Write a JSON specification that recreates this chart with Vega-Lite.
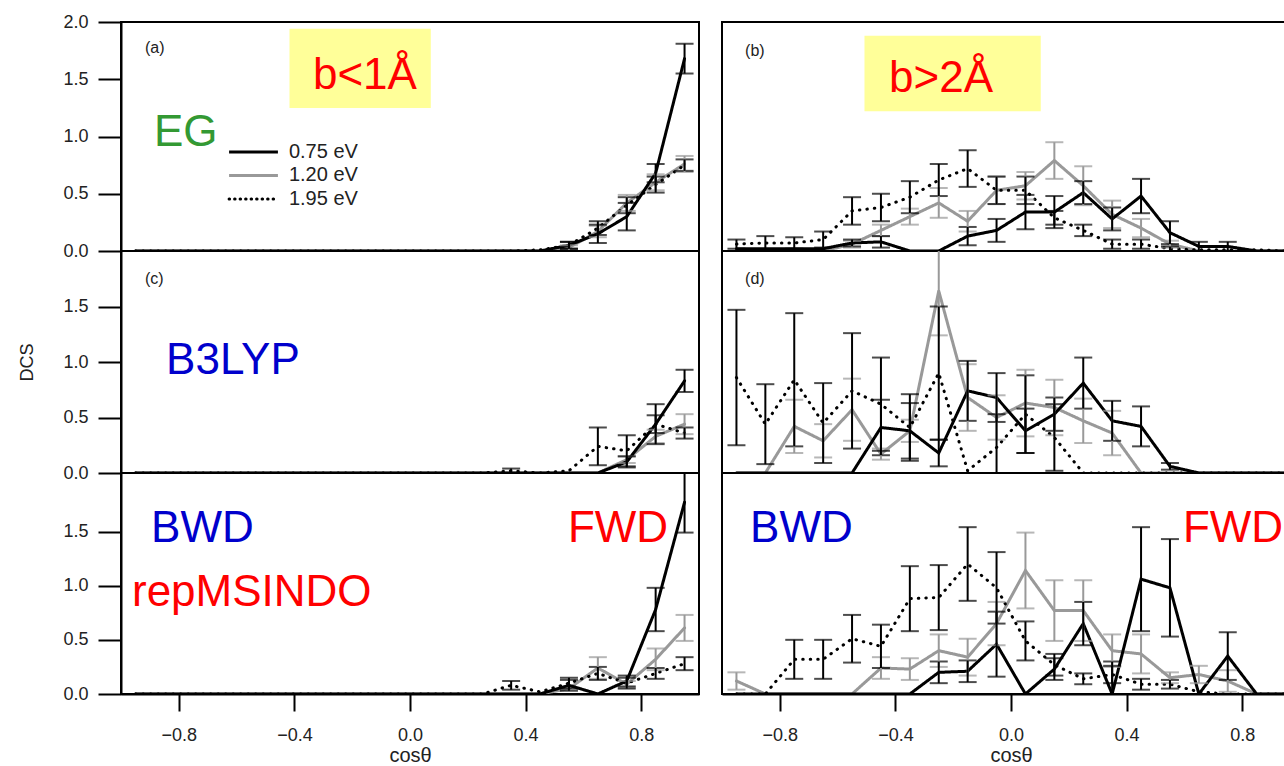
{
"$schema":"https://vega.github.io/schema/vega-lite/v6.json",
"padding":{"left":17,"top":12,"right":0,"bottom":0},
"background":"white",
"bounds":"flush",
"columns":2,
"spacing":{"row":0,"column":23},
"config":{"view":{"stroke":"#000","strokeWidth":2},"text":{"font":"Liberation Sans"},"axis":{"labelFont":"Liberation Sans","titleFont":"Liberation Sans","labelColor":"#222","titleColor":"#222","tickColor":"#000","domainColor":"#000","tickWidth":2,"domainWidth":2,"grid":false,"labelFontSize":18,"titleFontWeight":"normal"}},
"datasets":{"d":[
{"p":"a","s":"1.20 eV","x":-0.95,"v":0},{"p":"a","s":"1.20 eV","x":-0.85,"v":0},{"p":"a","s":"1.20 eV","x":-0.75,"v":0},{"p":"a","s":"1.20 eV","x":-0.65,"v":0},{"p":"a","s":"1.20 eV","x":-0.55,"v":0},{"p":"a","s":"1.20 eV","x":-0.45,"v":0},{"p":"a","s":"1.20 eV","x":-0.35,"v":0},{"p":"a","s":"1.20 eV","x":-0.25,"v":0},{"p":"a","s":"1.20 eV","x":-0.15,"v":0},{"p":"a","s":"1.20 eV","x":-0.05,"v":0},{"p":"a","s":"1.20 eV","x":0.05,"v":0},{"p":"a","s":"1.20 eV","x":0.15,"v":0},{"p":"a","s":"1.20 eV","x":0.25,"v":0},{"p":"a","s":"1.20 eV","x":0.35,"v":0},{"p":"a","s":"1.20 eV","x":0.45,"v":0},{"p":"a","s":"1.20 eV","x":0.55,"v":0.03,"e":0.02},{"p":"a","s":"1.20 eV","x":0.65,"v":0.17,"e":0.05},{"p":"a","s":"1.20 eV","x":0.75,"v":0.42,"e":0.07},{"p":"a","s":"1.20 eV","x":0.85,"v":0.6,"e":0.07},{"p":"a","s":"1.20 eV","x":0.95,"v":0.76,"e":0.07},
{"p":"a","s":"1.95 eV","x":-0.95,"v":0},{"p":"a","s":"1.95 eV","x":-0.85,"v":0},{"p":"a","s":"1.95 eV","x":-0.75,"v":0},{"p":"a","s":"1.95 eV","x":-0.65,"v":0},{"p":"a","s":"1.95 eV","x":-0.55,"v":0},{"p":"a","s":"1.95 eV","x":-0.45,"v":0},{"p":"a","s":"1.95 eV","x":-0.35,"v":0},{"p":"a","s":"1.95 eV","x":-0.25,"v":0},{"p":"a","s":"1.95 eV","x":-0.15,"v":0},{"p":"a","s":"1.95 eV","x":-0.05,"v":0},{"p":"a","s":"1.95 eV","x":0.05,"v":0},{"p":"a","s":"1.95 eV","x":0.15,"v":0},{"p":"a","s":"1.95 eV","x":0.25,"v":0},{"p":"a","s":"1.95 eV","x":0.35,"v":0},{"p":"a","s":"1.95 eV","x":0.45,"v":0.01},{"p":"a","s":"1.95 eV","x":0.55,"v":0.05,"e":0.03},{"p":"a","s":"1.95 eV","x":0.65,"v":0.2,"e":0.06},{"p":"a","s":"1.95 eV","x":0.75,"v":0.4,"e":0.07},{"p":"a","s":"1.95 eV","x":0.85,"v":0.58,"e":0.07},{"p":"a","s":"1.95 eV","x":0.95,"v":0.75,"e":0.05},
{"p":"a","s":"0.75 eV","x":-0.95,"v":0},{"p":"a","s":"0.75 eV","x":-0.85,"v":0},{"p":"a","s":"0.75 eV","x":-0.75,"v":0},{"p":"a","s":"0.75 eV","x":-0.65,"v":0},{"p":"a","s":"0.75 eV","x":-0.55,"v":0},{"p":"a","s":"0.75 eV","x":-0.45,"v":0},{"p":"a","s":"0.75 eV","x":-0.35,"v":0},{"p":"a","s":"0.75 eV","x":-0.25,"v":0},{"p":"a","s":"0.75 eV","x":-0.15,"v":0},{"p":"a","s":"0.75 eV","x":-0.05,"v":0},{"p":"a","s":"0.75 eV","x":0.05,"v":0},{"p":"a","s":"0.75 eV","x":0.15,"v":0},{"p":"a","s":"0.75 eV","x":0.25,"v":0},{"p":"a","s":"0.75 eV","x":0.35,"v":0},{"p":"a","s":"0.75 eV","x":0.45,"v":0},{"p":"a","s":"0.75 eV","x":0.55,"v":0.05,"e":0.03},{"p":"a","s":"0.75 eV","x":0.65,"v":0.15,"e":0.08},{"p":"a","s":"0.75 eV","x":0.75,"v":0.3,"e":0.12},{"p":"a","s":"0.75 eV","x":0.85,"v":0.68,"e":0.08},{"p":"a","s":"0.75 eV","x":0.95,"v":1.68,"e":0.13},

{"p":"b","s":"1.20 eV","x":-0.95,"v":0},{"p":"b","s":"1.20 eV","x":-0.85,"v":0},{"p":"b","s":"1.20 eV","x":-0.75,"v":0},{"p":"b","s":"1.20 eV","x":-0.65,"v":0},{"p":"b","s":"1.20 eV","x":-0.55,"v":0.06,"e":0.03},{"p":"b","s":"1.20 eV","x":-0.45,"v":0.18,"e":0.05},{"p":"b","s":"1.20 eV","x":-0.35,"v":0.3,"e":0.07},{"p":"b","s":"1.20 eV","x":-0.25,"v":0.42,"e":0.13},{"p":"b","s":"1.20 eV","x":-0.15,"v":0.26,"e":0.09},{"p":"b","s":"1.20 eV","x":-0.05,"v":0.53,"e":0.12},{"p":"b","s":"1.20 eV","x":0.05,"v":0.57,"e":0.12},{"p":"b","s":"1.20 eV","x":0.15,"v":0.79,"e":0.16},{"p":"b","s":"1.20 eV","x":0.25,"v":0.57,"e":0.17},{"p":"b","s":"1.20 eV","x":0.35,"v":0.32,"e":0.12},{"p":"b","s":"1.20 eV","x":0.45,"v":0.2,"e":0.08},{"p":"b","s":"1.20 eV","x":0.55,"v":0.06,"e":0.03},{"p":"b","s":"1.20 eV","x":0.65,"v":0},{"p":"b","s":"1.20 eV","x":0.75,"v":0},{"p":"b","s":"1.20 eV","x":0.85,"v":0},{"p":"b","s":"1.20 eV","x":0.95,"v":0},
{"p":"b","s":"1.95 eV","x":-0.95,"v":0.06,"e":0.04},{"p":"b","s":"1.95 eV","x":-0.85,"v":0.07,"e":0.06},{"p":"b","s":"1.95 eV","x":-0.75,"v":0.07,"e":0.05},{"p":"b","s":"1.95 eV","x":-0.65,"v":0.1,"e":0.07},{"p":"b","s":"1.95 eV","x":-0.55,"v":0.35,"e":0.12},{"p":"b","s":"1.95 eV","x":-0.45,"v":0.38,"e":0.12},{"p":"b","s":"1.95 eV","x":-0.35,"v":0.47,"e":0.14},{"p":"b","s":"1.95 eV","x":-0.25,"v":0.62,"e":0.14},{"p":"b","s":"1.95 eV","x":-0.15,"v":0.72,"e":0.16},{"p":"b","s":"1.95 eV","x":-0.05,"v":0.53,"e":0.12},{"p":"b","s":"1.95 eV","x":0.05,"v":0.53,"e":0.12},{"p":"b","s":"1.95 eV","x":0.15,"v":0.29,"e":0.06},{"p":"b","s":"1.95 eV","x":0.25,"v":0.18,"e":0.05},{"p":"b","s":"1.95 eV","x":0.35,"v":0.06,"e":0.04},{"p":"b","s":"1.95 eV","x":0.45,"v":0.06,"e":0.04},{"p":"b","s":"1.95 eV","x":0.55,"v":0.02,"e":0.02},{"p":"b","s":"1.95 eV","x":0.65,"v":0.01},{"p":"b","s":"1.95 eV","x":0.75,"v":0.01},{"p":"b","s":"1.95 eV","x":0.85,"v":0.01},{"p":"b","s":"1.95 eV","x":0.95,"v":0},
{"p":"b","s":"0.75 eV","x":-0.95,"v":0.02},{"p":"b","s":"0.75 eV","x":-0.85,"v":0.02},{"p":"b","s":"0.75 eV","x":-0.75,"v":0.02},{"p":"b","s":"0.75 eV","x":-0.65,"v":0.02},{"p":"b","s":"0.75 eV","x":-0.55,"v":0.07,"e":0.03},{"p":"b","s":"0.75 eV","x":-0.45,"v":0.08,"e":0.05},{"p":"b","s":"0.75 eV","x":-0.35,"v":0},{"p":"b","s":"0.75 eV","x":-0.25,"v":0},{"p":"b","s":"0.75 eV","x":-0.15,"v":0.13,"e":0.08},{"p":"b","s":"0.75 eV","x":-0.05,"v":0.18,"e":0.1},{"p":"b","s":"0.75 eV","x":0.05,"v":0.34,"e":0.15},{"p":"b","s":"0.75 eV","x":0.15,"v":0.34,"e":0.14},{"p":"b","s":"0.75 eV","x":0.25,"v":0.51,"e":0.1},{"p":"b","s":"0.75 eV","x":0.35,"v":0.28,"e":0.1},{"p":"b","s":"0.75 eV","x":0.45,"v":0.48,"e":0.15},{"p":"b","s":"0.75 eV","x":0.55,"v":0.16,"e":0.1},{"p":"b","s":"0.75 eV","x":0.65,"v":0.04,"e":0.04},{"p":"b","s":"0.75 eV","x":0.75,"v":0.04,"e":0.04},{"p":"b","s":"0.75 eV","x":0.85,"v":0},{"p":"b","s":"0.75 eV","x":0.95,"v":0},

{"p":"c","s":"1.20 eV","x":-0.95,"v":0},{"p":"c","s":"1.20 eV","x":-0.85,"v":0},{"p":"c","s":"1.20 eV","x":-0.75,"v":0},{"p":"c","s":"1.20 eV","x":-0.65,"v":0},{"p":"c","s":"1.20 eV","x":-0.55,"v":0},{"p":"c","s":"1.20 eV","x":-0.45,"v":0},{"p":"c","s":"1.20 eV","x":-0.35,"v":0},{"p":"c","s":"1.20 eV","x":-0.25,"v":0},{"p":"c","s":"1.20 eV","x":-0.15,"v":0},{"p":"c","s":"1.20 eV","x":-0.05,"v":0},{"p":"c","s":"1.20 eV","x":0.05,"v":0},{"p":"c","s":"1.20 eV","x":0.15,"v":0},{"p":"c","s":"1.20 eV","x":0.25,"v":0},{"p":"c","s":"1.20 eV","x":0.35,"v":0},{"p":"c","s":"1.20 eV","x":0.45,"v":0},{"p":"c","s":"1.20 eV","x":0.55,"v":0},{"p":"c","s":"1.20 eV","x":0.65,"v":0},{"p":"c","s":"1.20 eV","x":0.75,"v":0.12,"e":0.03},{"p":"c","s":"1.20 eV","x":0.85,"v":0.33,"e":0.06},{"p":"c","s":"1.20 eV","x":0.95,"v":0.44,"e":0.09},
{"p":"c","s":"1.95 eV","x":-0.95,"v":0},{"p":"c","s":"1.95 eV","x":-0.85,"v":0},{"p":"c","s":"1.95 eV","x":-0.75,"v":0},{"p":"c","s":"1.95 eV","x":-0.65,"v":0},{"p":"c","s":"1.95 eV","x":-0.55,"v":0},{"p":"c","s":"1.95 eV","x":-0.45,"v":0},{"p":"c","s":"1.95 eV","x":-0.35,"v":0},{"p":"c","s":"1.95 eV","x":-0.25,"v":0},{"p":"c","s":"1.95 eV","x":-0.15,"v":0},{"p":"c","s":"1.95 eV","x":-0.05,"v":0},{"p":"c","s":"1.95 eV","x":0.05,"v":0},{"p":"c","s":"1.95 eV","x":0.15,"v":0},{"p":"c","s":"1.95 eV","x":0.25,"v":0},{"p":"c","s":"1.95 eV","x":0.35,"v":0.02,"e":0.02},{"p":"c","s":"1.95 eV","x":0.45,"v":0},{"p":"c","s":"1.95 eV","x":0.55,"v":0.02},{"p":"c","s":"1.95 eV","x":0.65,"v":0.24,"e":0.17},{"p":"c","s":"1.95 eV","x":0.75,"v":0.2,"e":0.14},{"p":"c","s":"1.95 eV","x":0.85,"v":0.44,"e":0.08},{"p":"c","s":"1.95 eV","x":0.95,"v":0.36,"e":0.05},
{"p":"c","s":"0.75 eV","x":-0.95,"v":0},{"p":"c","s":"0.75 eV","x":-0.85,"v":0},{"p":"c","s":"0.75 eV","x":-0.75,"v":0},{"p":"c","s":"0.75 eV","x":-0.65,"v":0},{"p":"c","s":"0.75 eV","x":-0.55,"v":0},{"p":"c","s":"0.75 eV","x":-0.45,"v":0},{"p":"c","s":"0.75 eV","x":-0.35,"v":0},{"p":"c","s":"0.75 eV","x":-0.25,"v":0},{"p":"c","s":"0.75 eV","x":-0.15,"v":0},{"p":"c","s":"0.75 eV","x":-0.05,"v":0},{"p":"c","s":"0.75 eV","x":0.05,"v":0},{"p":"c","s":"0.75 eV","x":0.15,"v":0},{"p":"c","s":"0.75 eV","x":0.25,"v":0},{"p":"c","s":"0.75 eV","x":0.35,"v":0},{"p":"c","s":"0.75 eV","x":0.45,"v":0},{"p":"c","s":"0.75 eV","x":0.55,"v":0},{"p":"c","s":"0.75 eV","x":0.65,"v":0},{"p":"c","s":"0.75 eV","x":0.75,"v":0.1,"e":0.05},{"p":"c","s":"0.75 eV","x":0.85,"v":0.44,"e":0.18},{"p":"c","s":"0.75 eV","x":0.95,"v":0.83,"e":0.1},

{"p":"d","s":"1.20 eV","x":-0.95,"v":0},{"p":"d","s":"1.20 eV","x":-0.85,"v":0},{"p":"d","s":"1.20 eV","x":-0.75,"v":0.42,"e":0.24},{"p":"d","s":"1.20 eV","x":-0.65,"v":0.29,"e":0.15},{"p":"d","s":"1.20 eV","x":-0.55,"v":0.57,"e":0.28},{"p":"d","s":"1.20 eV","x":-0.45,"v":0.17,"e":0.05},{"p":"d","s":"1.20 eV","x":-0.35,"v":0.38,"e":0.1},{"p":"d","s":"1.20 eV","x":-0.25,"v":1.64,"e":0.4},{"p":"d","s":"1.20 eV","x":-0.15,"v":0.68,"e":0.3},{"p":"d","s":"1.20 eV","x":-0.05,"v":0.5,"e":0.2},{"p":"d","s":"1.20 eV","x":0.05,"v":0.63,"e":0.3},{"p":"d","s":"1.20 eV","x":0.15,"v":0.59,"e":0.25},{"p":"d","s":"1.20 eV","x":0.25,"v":0.47,"e":0.2},{"p":"d","s":"1.20 eV","x":0.35,"v":0.36,"e":0.2},{"p":"d","s":"1.20 eV","x":0.45,"v":0},{"p":"d","s":"1.20 eV","x":0.55,"v":0},{"p":"d","s":"1.20 eV","x":0.65,"v":0},{"p":"d","s":"1.20 eV","x":0.75,"v":0},{"p":"d","s":"1.20 eV","x":0.85,"v":0},{"p":"d","s":"1.20 eV","x":0.95,"v":0},
{"p":"d","s":"1.95 eV","x":-0.95,"v":0.86,"e":0.61},{"p":"d","s":"1.95 eV","x":-0.85,"v":0.44,"e":0.36},{"p":"d","s":"1.95 eV","x":-0.75,"v":0.84,"e":0.6},{"p":"d","s":"1.95 eV","x":-0.65,"v":0.45,"e":0.36},{"p":"d","s":"1.95 eV","x":-0.55,"v":0.74,"e":0.52},{"p":"d","s":"1.95 eV","x":-0.45,"v":0.62,"e":0.42},{"p":"d","s":"1.95 eV","x":-0.35,"v":0.41,"e":0.3},{"p":"d","s":"1.95 eV","x":-0.25,"v":0.9,"e":0.6},{"p":"d","s":"1.95 eV","x":-0.15,"v":0.02},{"p":"d","s":"1.95 eV","x":-0.05,"v":0.23,"e":0.3},{"p":"d","s":"1.95 eV","x":0.05,"v":0.53,"e":0.35},{"p":"d","s":"1.95 eV","x":0.15,"v":0.32,"e":0.3},{"p":"d","s":"1.95 eV","x":0.25,"v":0},{"p":"d","s":"1.95 eV","x":0.35,"v":0},{"p":"d","s":"1.95 eV","x":0.45,"v":0},{"p":"d","s":"1.95 eV","x":0.55,"v":0},{"p":"d","s":"1.95 eV","x":0.65,"v":0},{"p":"d","s":"1.95 eV","x":0.75,"v":0},{"p":"d","s":"1.95 eV","x":0.85,"v":0},{"p":"d","s":"1.95 eV","x":0.95,"v":0},
{"p":"d","s":"0.75 eV","x":-0.95,"v":0},{"p":"d","s":"0.75 eV","x":-0.85,"v":0},{"p":"d","s":"0.75 eV","x":-0.75,"v":0},{"p":"d","s":"0.75 eV","x":-0.65,"v":0},{"p":"d","s":"0.75 eV","x":-0.55,"v":0},{"p":"d","s":"0.75 eV","x":-0.45,"v":0.41,"e":0.25},{"p":"d","s":"0.75 eV","x":-0.35,"v":0.38,"e":0.25},{"p":"d","s":"0.75 eV","x":-0.25,"v":0.18,"e":0.12},{"p":"d","s":"0.75 eV","x":-0.15,"v":0.74,"e":0.27},{"p":"d","s":"0.75 eV","x":-0.05,"v":0.68,"e":0.22},{"p":"d","s":"0.75 eV","x":0.05,"v":0.38,"e":0.2},{"p":"d","s":"0.75 eV","x":0.15,"v":0.53,"e":0.15},{"p":"d","s":"0.75 eV","x":0.25,"v":0.81,"e":0.23},{"p":"d","s":"0.75 eV","x":0.35,"v":0.47,"e":0.18},{"p":"d","s":"0.75 eV","x":0.45,"v":0.42,"e":0.18},{"p":"d","s":"0.75 eV","x":0.55,"v":0.06,"e":0.03},{"p":"d","s":"0.75 eV","x":0.65,"v":0},{"p":"d","s":"0.75 eV","x":0.75,"v":0},{"p":"d","s":"0.75 eV","x":0.85,"v":0},{"p":"d","s":"0.75 eV","x":0.95,"v":0},

{"p":"e","s":"1.20 eV","x":-0.95,"v":0},{"p":"e","s":"1.20 eV","x":-0.85,"v":0},{"p":"e","s":"1.20 eV","x":-0.75,"v":0},{"p":"e","s":"1.20 eV","x":-0.65,"v":0},{"p":"e","s":"1.20 eV","x":-0.55,"v":0},{"p":"e","s":"1.20 eV","x":-0.45,"v":0},{"p":"e","s":"1.20 eV","x":-0.35,"v":0},{"p":"e","s":"1.20 eV","x":-0.25,"v":0},{"p":"e","s":"1.20 eV","x":-0.15,"v":0},{"p":"e","s":"1.20 eV","x":-0.05,"v":0},{"p":"e","s":"1.20 eV","x":0.05,"v":0},{"p":"e","s":"1.20 eV","x":0.15,"v":0},{"p":"e","s":"1.20 eV","x":0.25,"v":0},{"p":"e","s":"1.20 eV","x":0.35,"v":0},{"p":"e","s":"1.20 eV","x":0.45,"v":0},{"p":"e","s":"1.20 eV","x":0.55,"v":0.05},{"p":"e","s":"1.20 eV","x":0.65,"v":0.24,"e":0.1},{"p":"e","s":"1.20 eV","x":0.75,"v":0.09,"e":0.03},{"p":"e","s":"1.20 eV","x":0.85,"v":0.32,"e":0.1},{"p":"e","s":"1.20 eV","x":0.95,"v":0.61,"e":0.12},
{"p":"e","s":"1.95 eV","x":-0.95,"v":0},{"p":"e","s":"1.95 eV","x":-0.85,"v":0},{"p":"e","s":"1.95 eV","x":-0.75,"v":0},{"p":"e","s":"1.95 eV","x":-0.65,"v":0},{"p":"e","s":"1.95 eV","x":-0.55,"v":0},{"p":"e","s":"1.95 eV","x":-0.45,"v":0},{"p":"e","s":"1.95 eV","x":-0.35,"v":0},{"p":"e","s":"1.95 eV","x":-0.25,"v":0},{"p":"e","s":"1.95 eV","x":-0.15,"v":0},{"p":"e","s":"1.95 eV","x":-0.05,"v":0},{"p":"e","s":"1.95 eV","x":0.05,"v":0},{"p":"e","s":"1.95 eV","x":0.15,"v":0},{"p":"e","s":"1.95 eV","x":0.25,"v":0},{"p":"e","s":"1.95 eV","x":0.35,"v":0.08,"e":0.04},{"p":"e","s":"1.95 eV","x":0.45,"v":0.02},{"p":"e","s":"1.95 eV","x":0.55,"v":0.1,"e":0.05},{"p":"e","s":"1.95 eV","x":0.65,"v":0.19,"e":0.06},{"p":"e","s":"1.95 eV","x":0.75,"v":0.1,"e":0.05},{"p":"e","s":"1.95 eV","x":0.85,"v":0.19,"e":0.05},{"p":"e","s":"1.95 eV","x":0.95,"v":0.28,"e":0.06},
{"p":"e","s":"0.75 eV","x":-0.95,"v":0},{"p":"e","s":"0.75 eV","x":-0.85,"v":0},{"p":"e","s":"0.75 eV","x":-0.75,"v":0},{"p":"e","s":"0.75 eV","x":-0.65,"v":0},{"p":"e","s":"0.75 eV","x":-0.55,"v":0},{"p":"e","s":"0.75 eV","x":-0.45,"v":0},{"p":"e","s":"0.75 eV","x":-0.35,"v":0},{"p":"e","s":"0.75 eV","x":-0.25,"v":0},{"p":"e","s":"0.75 eV","x":-0.15,"v":0},{"p":"e","s":"0.75 eV","x":-0.05,"v":0},{"p":"e","s":"0.75 eV","x":0.05,"v":0},{"p":"e","s":"0.75 eV","x":0.15,"v":0},{"p":"e","s":"0.75 eV","x":0.25,"v":0},{"p":"e","s":"0.75 eV","x":0.35,"v":0},{"p":"e","s":"0.75 eV","x":0.45,"v":0},{"p":"e","s":"0.75 eV","x":0.55,"v":0.08,"e":0.05},{"p":"e","s":"0.75 eV","x":0.65,"v":0},{"p":"e","s":"0.75 eV","x":0.75,"v":0.12,"e":0.05},{"p":"e","s":"0.75 eV","x":0.85,"v":0.78,"e":0.2},{"p":"e","s":"0.75 eV","x":0.95,"v":1.77,"e":0.28},

{"p":"f","s":"1.20 eV","x":-0.95,"v":0.12,"e":0.08},{"p":"f","s":"1.20 eV","x":-0.85,"v":0},{"p":"f","s":"1.20 eV","x":-0.75,"v":0},{"p":"f","s":"1.20 eV","x":-0.65,"v":0},{"p":"f","s":"1.20 eV","x":-0.55,"v":0},{"p":"f","s":"1.20 eV","x":-0.45,"v":0.24,"e":0.1},{"p":"f","s":"1.20 eV","x":-0.35,"v":0.23,"e":0.1},{"p":"f","s":"1.20 eV","x":-0.25,"v":0.4,"e":0.15},{"p":"f","s":"1.20 eV","x":-0.15,"v":0.34,"e":0.17},{"p":"f","s":"1.20 eV","x":-0.05,"v":0.65,"e":0.2},{"p":"f","s":"1.20 eV","x":0.05,"v":1.14,"e":0.35},{"p":"f","s":"1.20 eV","x":0.15,"v":0.77,"e":0.28},{"p":"f","s":"1.20 eV","x":0.25,"v":0.77,"e":0.28},{"p":"f","s":"1.20 eV","x":0.35,"v":0.4,"e":0.15},{"p":"f","s":"1.20 eV","x":0.45,"v":0.37,"e":0.18},{"p":"f","s":"1.20 eV","x":0.55,"v":0.15,"e":0.05},{"p":"f","s":"1.20 eV","x":0.65,"v":0.18,"e":0.08},{"p":"f","s":"1.20 eV","x":0.75,"v":0.12,"e":0.1},{"p":"f","s":"1.20 eV","x":0.85,"v":0},{"p":"f","s":"1.20 eV","x":0.95,"v":0},
{"p":"f","s":"1.95 eV","x":-0.95,"v":0},{"p":"f","s":"1.95 eV","x":-0.85,"v":0},{"p":"f","s":"1.95 eV","x":-0.75,"v":0.32,"e":0.18},{"p":"f","s":"1.95 eV","x":-0.65,"v":0.32,"e":0.18},{"p":"f","s":"1.95 eV","x":-0.55,"v":0.51,"e":0.22},{"p":"f","s":"1.95 eV","x":-0.45,"v":0.44,"e":0.2},{"p":"f","s":"1.95 eV","x":-0.35,"v":0.88,"e":0.3},{"p":"f","s":"1.95 eV","x":-0.25,"v":0.89,"e":0.3},{"p":"f","s":"1.95 eV","x":-0.15,"v":1.2,"e":0.34},{"p":"f","s":"1.95 eV","x":-0.05,"v":0.98,"e":0.33},{"p":"f","s":"1.95 eV","x":0.05,"v":0.49,"e":0.18},{"p":"f","s":"1.95 eV","x":0.15,"v":0.27,"e":0.1},{"p":"f","s":"1.95 eV","x":0.25,"v":0.14,"e":0.05},{"p":"f","s":"1.95 eV","x":0.35,"v":0.18,"e":0.08},{"p":"f","s":"1.95 eV","x":0.45,"v":0.09,"e":0.05},{"p":"f","s":"1.95 eV","x":0.55,"v":0.09,"e":0.04},{"p":"f","s":"1.95 eV","x":0.65,"v":0.02},{"p":"f","s":"1.95 eV","x":0.75,"v":0},{"p":"f","s":"1.95 eV","x":0.85,"v":0},{"p":"f","s":"1.95 eV","x":0.95,"v":0},
{"p":"f","s":"0.75 eV","x":-0.95,"v":0},{"p":"f","s":"0.75 eV","x":-0.85,"v":0},{"p":"f","s":"0.75 eV","x":-0.75,"v":0},{"p":"f","s":"0.75 eV","x":-0.65,"v":0},{"p":"f","s":"0.75 eV","x":-0.55,"v":0},{"p":"f","s":"0.75 eV","x":-0.45,"v":0},{"p":"f","s":"0.75 eV","x":-0.35,"v":0},{"p":"f","s":"0.75 eV","x":-0.25,"v":0.2,"e":0.1},{"p":"f","s":"0.75 eV","x":-0.15,"v":0.21,"e":0.1},{"p":"f","s":"0.75 eV","x":-0.05,"v":0.46,"e":0.3},{"p":"f","s":"0.75 eV","x":0.05,"v":0},{"p":"f","s":"0.75 eV","x":0.15,"v":0.23,"e":0.1},{"p":"f","s":"0.75 eV","x":0.25,"v":0.65,"e":0.2},{"p":"f","s":"0.75 eV","x":0.35,"v":0,"e":0.3},{"p":"f","s":"0.75 eV","x":0.45,"v":1.06,"e":0.48},{"p":"f","s":"0.75 eV","x":0.55,"v":0.98,"e":0.45},{"p":"f","s":"0.75 eV","x":0.65,"v":0},{"p":"f","s":"0.75 eV","x":0.75,"v":0.35,"e":0.22},{"p":"f","s":"0.75 eV","x":0.85,"v":0},{"p":"f","s":"0.75 eV","x":0.95,"v":0}
]},
"concat":[
{"width":578,"height":229,"layer":[
 {"data":{"name":"d"},"transform":[{"filter":"datum.p==='a'"}],"mark":{"type":"line","strokeWidth":3,"strokeCap":"round","clip":true},
  "encoding":{"x":{"field":"x","type":"quantitative","scale":{"domain":[-1,1],"nice":false,"zero":false},"axis":null},
   "y":{"field":"v","type":"quantitative","scale":{"domain":[0,2],"nice":false},"title":null,"axis":{"values":[0,0.5,1,1.5,2],"format":".1f","tickSize":23,"labelPadding":10,"title":null}},
   "color":{"field":"s","type":"nominal","scale":{"domain":["0.75 eV","1.20 eV","1.95 eV"],"range":["#000000","#999999","#000000"]},"legend":null},
   "strokeDash":{"field":"s","type":"nominal","scale":{"domain":["0.75 eV","1.20 eV","1.95 eV"],"range":[[1,0],[1,0],[0.5,7]]},"legend":null}}},
 {"data":{"name":"d"},"transform":[{"filter":"datum.p==='a' && datum.e>0"}],"mark":{"type":"errorbar","ticks":{"size":18,"thickness":2},"thickness":2,"clip":true},
  "encoding":{"x":{"field":"x","type":"quantitative","axis":null},"y":{"field":"v","type":"quantitative","title":null},"yError":{"field":"e"},"color":{"field":"s","type":"nominal","legend":null}}},
 {"data":{"values":[{}]},"mark":{"type":"rect","color":"#FFFF99"},"encoding":{"x":{"datum":-0.417,"type":"quantitative","axis":null},"x2":{"datum":0.072},"y":{"datum":1.94,"type":"quantitative"},"y2":{"datum":1.25}}},
 {"data":{"values":[{}]},"mark":{"type":"text","text":"b<1Å","fontSize":44,"color":"#FF0000","align":"center","baseline":"alphabetic"},"encoding":{"x":{"datum":-0.156,"type":"quantitative","axis":null},"y":{"datum":1.415,"type":"quantitative"}}},
 {"data":{"values":[{}]},"mark":{"type":"text","text":"EG","fontSize":44,"color":"#339933","align":"left","baseline":"alphabetic"},"encoding":{"x":{"datum":-0.886,"type":"quantitative","axis":null},"y":{"datum":0.92,"type":"quantitative"}}},
 {"data":{"values":[{}]},"mark":{"type":"text","text":"(a)","fontSize":16,"color":"#222","align":"left","baseline":"alphabetic"},"encoding":{"x":{"datum":-0.917,"type":"quantitative","axis":null},"y":{"datum":1.73,"type":"quantitative"}}},
 {"data":{"values":[{}]},"mark":{"type":"rule","color":"#000000","strokeWidth":3},"encoding":{"x":{"datum":-0.626,"type":"quantitative","axis":null},"x2":{"datum":-0.457},"y":{"datum":0.865,"type":"quantitative"}}},
 {"data":{"values":[{}]},"mark":{"type":"rule","color":"#999999","strokeWidth":3},"encoding":{"x":{"datum":-0.626,"type":"quantitative","axis":null},"x2":{"datum":-0.457},"y":{"datum":0.66,"type":"quantitative"}}},
 {"data":{"values":[{}]},"mark":{"type":"rule","color":"#000000","strokeWidth":3,"strokeDash":[0.5,5],"strokeCap":"round"},"encoding":{"x":{"datum":-0.626,"type":"quantitative","axis":null},"x2":{"datum":-0.457},"y":{"datum":0.454,"type":"quantitative"}}},
 {"data":{"values":[{}]},"mark":{"type":"text","text":"0.75 eV","fontSize":20,"color":"#222","align":"left","baseline":"middle"},"encoding":{"x":{"datum":-0.419,"type":"quantitative","axis":null},"y":{"datum":0.865,"type":"quantitative"}}},
 {"data":{"values":[{}]},"mark":{"type":"text","text":"1.20 eV","fontSize":20,"color":"#222","align":"left","baseline":"middle"},"encoding":{"x":{"datum":-0.419,"type":"quantitative","axis":null},"y":{"datum":0.66,"type":"quantitative"}}},
 {"data":{"values":[{}]},"mark":{"type":"text","text":"1.95 eV","fontSize":20,"color":"#222","align":"left","baseline":"middle"},"encoding":{"x":{"datum":-0.419,"type":"quantitative","axis":null},"y":{"datum":0.454,"type":"quantitative"}}}
]},
{"width":578,"height":229,"layer":[
 {"data":{"name":"d"},"transform":[{"filter":"datum.p==='b'"}],"mark":{"type":"line","strokeWidth":3,"strokeCap":"round","clip":true},
  "encoding":{"x":{"field":"x","type":"quantitative","scale":{"domain":[-1,1],"nice":false,"zero":false},"axis":null},
   "y":{"field":"v","type":"quantitative","scale":{"domain":[0,2],"nice":false},"axis":null},
   "color":{"field":"s","type":"nominal","scale":{"domain":["0.75 eV","1.20 eV","1.95 eV"],"range":["#000000","#999999","#000000"]},"legend":null},
   "strokeDash":{"field":"s","type":"nominal","scale":{"domain":["0.75 eV","1.20 eV","1.95 eV"],"range":[[1,0],[1,0],[0.5,7]]},"legend":null}}},
 {"data":{"name":"d"},"transform":[{"filter":"datum.p==='b' && datum.e>0"}],"mark":{"type":"errorbar","ticks":{"size":18,"thickness":2},"thickness":2,"clip":true},
  "encoding":{"x":{"field":"x","type":"quantitative","axis":null},"y":{"field":"v","type":"quantitative","axis":null},"yError":{"field":"e"},"color":{"field":"s","type":"nominal","legend":null}}},
 {"data":{"values":[{}]},"mark":{"type":"rect","color":"#FFFF99"},"encoding":{"x":{"datum":-0.507,"type":"quantitative","axis":null},"x2":{"datum":0.103},"y":{"datum":1.88,"type":"quantitative","axis":null},"y2":{"datum":1.22}}},
 {"data":{"values":[{}]},"mark":{"type":"text","text":"b>2Å","fontSize":44,"color":"#FF0000","align":"center","baseline":"alphabetic"},"encoding":{"x":{"datum":-0.242,"type":"quantitative","axis":null},"y":{"datum":1.39,"type":"quantitative","axis":null}}},
 {"data":{"values":[{}]},"mark":{"type":"text","text":"(b)","fontSize":16,"color":"#222","align":"left","baseline":"alphabetic"},"encoding":{"x":{"datum":-0.92,"type":"quantitative","axis":null},"y":{"datum":1.7,"type":"quantitative","axis":null}}}
]},
{"width":578,"height":222,"layer":[
 {"data":{"name":"d"},"transform":[{"filter":"datum.p==='c'"}],"mark":{"type":"line","strokeWidth":3,"strokeCap":"round","clip":true},
  "encoding":{"x":{"field":"x","type":"quantitative","scale":{"domain":[-1,1],"nice":false,"zero":false},"axis":null},
   "y":{"field":"v","type":"quantitative","scale":{"domain":[0,2],"nice":false},"title":"DCS","axis":{"values":[0,0.5,1,1.5],"format":".1f","tickSize":23,"labelPadding":10,"title":"DCS","titleFontSize":18,"titlePadding":26}},
   "color":{"field":"s","type":"nominal","scale":{"domain":["0.75 eV","1.20 eV","1.95 eV"],"range":["#000000","#999999","#000000"]},"legend":null},
   "strokeDash":{"field":"s","type":"nominal","scale":{"domain":["0.75 eV","1.20 eV","1.95 eV"],"range":[[1,0],[1,0],[0.5,7]]},"legend":null}}},
 {"data":{"name":"d"},"transform":[{"filter":"datum.p==='c' && datum.e>0"}],"mark":{"type":"errorbar","ticks":{"size":18,"thickness":2},"thickness":2,"clip":true},
  "encoding":{"x":{"field":"x","type":"quantitative","axis":null},"y":{"field":"v","type":"quantitative","title":"DCS"},"yError":{"field":"e"},"color":{"field":"s","type":"nominal","legend":null}}},
 {"data":{"values":[{}]},"mark":{"type":"text","text":"(c)","fontSize":16,"color":"#222","align":"left","baseline":"alphabetic"},"encoding":{"x":{"datum":-0.917,"type":"quantitative","axis":null},"y":{"datum":1.7,"type":"quantitative"}}},
 {"data":{"values":[{}]},"mark":{"type":"text","text":"B3LYP","fontSize":44,"color":"#0000CC","align":"left","baseline":"alphabetic"},"encoding":{"x":{"datum":-0.844,"type":"quantitative","axis":null},"y":{"datum":0.89,"type":"quantitative"}}}
]},
{"width":578,"height":222,"layer":[
 {"data":{"name":"d"},"transform":[{"filter":"datum.p==='d'"}],"mark":{"type":"line","strokeWidth":3,"strokeCap":"round","clip":true},
  "encoding":{"x":{"field":"x","type":"quantitative","scale":{"domain":[-1,1],"nice":false,"zero":false},"axis":null},
   "y":{"field":"v","type":"quantitative","scale":{"domain":[0,2],"nice":false},"axis":null},
   "color":{"field":"s","type":"nominal","scale":{"domain":["0.75 eV","1.20 eV","1.95 eV"],"range":["#000000","#999999","#000000"]},"legend":null},
   "strokeDash":{"field":"s","type":"nominal","scale":{"domain":["0.75 eV","1.20 eV","1.95 eV"],"range":[[1,0],[1,0],[0.5,7]]},"legend":null}}},
 {"data":{"name":"d"},"transform":[{"filter":"datum.p==='d' && datum.e>0"}],"mark":{"type":"errorbar","ticks":{"size":18,"thickness":2},"thickness":2,"clip":true},
  "encoding":{"x":{"field":"x","type":"quantitative","axis":null},"y":{"field":"v","type":"quantitative","axis":null},"yError":{"field":"e"},"color":{"field":"s","type":"nominal","legend":null}}},
 {"data":{"values":[{}]},"mark":{"type":"text","text":"(d)","fontSize":16,"color":"#222","align":"left","baseline":"alphabetic"},"encoding":{"x":{"datum":-0.92,"type":"quantitative","axis":null},"y":{"datum":1.7,"type":"quantitative","axis":null}}}
]},
{"width":578,"height":221,"layer":[
 {"data":{"name":"d"},"transform":[{"filter":"datum.p==='e'"}],"mark":{"type":"line","strokeWidth":3,"strokeCap":"round","clip":true},
  "encoding":{"x":{"field":"x","type":"quantitative","scale":{"domain":[-1,1],"nice":false,"zero":false},"title":"cosθ","axis":{"values":[-0.8,-0.4,0,0.4,0.8],"format":".1f","tickSize":17,"labelPadding":15,"title":"cosθ","titleFontSize":20,"titlePadding":1}},
   "y":{"field":"v","type":"quantitative","scale":{"domain":[0,2.04],"nice":false},"title":null,"axis":{"values":[0,0.5,1,1.5],"format":".1f","tickSize":23,"labelPadding":10,"title":null}},
   "color":{"field":"s","type":"nominal","scale":{"domain":["0.75 eV","1.20 eV","1.95 eV"],"range":["#000000","#999999","#000000"]},"legend":null},
   "strokeDash":{"field":"s","type":"nominal","scale":{"domain":["0.75 eV","1.20 eV","1.95 eV"],"range":[[1,0],[1,0],[0.5,7]]},"legend":null}}},
 {"data":{"name":"d"},"transform":[{"filter":"datum.p==='e' && datum.e>0"}],"mark":{"type":"errorbar","ticks":{"size":18,"thickness":2},"thickness":2,"clip":true},
  "encoding":{"x":{"field":"x","type":"quantitative","title":"cosθ"},"y":{"field":"v","type":"quantitative","title":null},"yError":{"field":"e"},"color":{"field":"s","type":"nominal","legend":null}}},
 {"data":{"values":[{}]},"mark":{"type":"text","text":"BWD","fontSize":44,"color":"#0000CC","align":"left","baseline":"alphabetic"},"encoding":{"x":{"datum":-0.896,"type":"quantitative"},"y":{"datum":1.4,"type":"quantitative"}}},
 {"data":{"values":[{}]},"mark":{"type":"text","text":"repMSINDO","fontSize":44,"color":"#FF0000","align":"left","baseline":"alphabetic"},"encoding":{"x":{"datum":-0.962,"type":"quantitative"},"y":{"datum":0.81,"type":"quantitative"}}},
 {"data":{"values":[{}]},"mark":{"type":"text","text":"FWD","fontSize":44,"color":"#FF0000","align":"right","baseline":"alphabetic"},"encoding":{"x":{"datum":0.893,"type":"quantitative"},"y":{"datum":1.4,"type":"quantitative"}}}
]},
{"width":578,"height":221,"layer":[
 {"data":{"name":"d"},"transform":[{"filter":"datum.p==='f'"}],"mark":{"type":"line","strokeWidth":3,"strokeCap":"round","clip":true},
  "encoding":{"x":{"field":"x","type":"quantitative","scale":{"domain":[-1,1],"nice":false,"zero":false},"title":"cosθ","axis":{"values":[-0.8,-0.4,0,0.4,0.8],"format":".1f","tickSize":17,"labelPadding":15,"title":"cosθ","titleFontSize":20,"titlePadding":1}},
   "y":{"field":"v","type":"quantitative","scale":{"domain":[0,2.04],"nice":false},"axis":null},
   "color":{"field":"s","type":"nominal","scale":{"domain":["0.75 eV","1.20 eV","1.95 eV"],"range":["#000000","#999999","#000000"]},"legend":null},
   "strokeDash":{"field":"s","type":"nominal","scale":{"domain":["0.75 eV","1.20 eV","1.95 eV"],"range":[[1,0],[1,0],[0.5,7]]},"legend":null}}},
 {"data":{"name":"d"},"transform":[{"filter":"datum.p==='f' && datum.e>0"}],"mark":{"type":"errorbar","ticks":{"size":18,"thickness":2},"thickness":2,"clip":true},
  "encoding":{"x":{"field":"x","type":"quantitative","title":"cosθ"},"y":{"field":"v","type":"quantitative","axis":null},"yError":{"field":"e"},"color":{"field":"s","type":"nominal","legend":null}}},
 {"data":{"values":[{}]},"mark":{"type":"text","text":"BWD","fontSize":44,"color":"#0000CC","align":"left","baseline":"alphabetic"},"encoding":{"x":{"datum":-0.903,"type":"quantitative"},"y":{"datum":1.4,"type":"quantitative","axis":null}}},
 {"data":{"values":[{}]},"mark":{"type":"text","text":"FWD","fontSize":44,"color":"#FF0000","align":"left","baseline":"alphabetic"},"encoding":{"x":{"datum":0.595,"type":"quantitative"},"y":{"datum":1.4,"type":"quantitative","axis":null}}}
]}
]
}
